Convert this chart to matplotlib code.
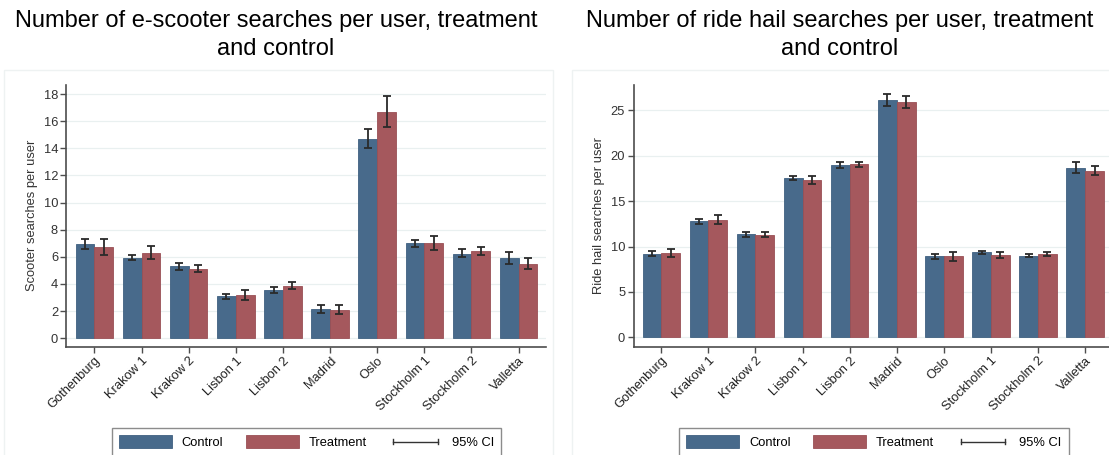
import numpy as np
import matplotlib
matplotlib.use("Agg")
import matplotlib.pyplot as plt
from matplotlib.patches import Patch, Rectangle
from matplotlib.lines import Line2D
from matplotlib.legend_handler import HandlerBase

plt.rcParams["font.family"] = ["Liberation Sans", "DejaVu Sans"]

cities = ["Gothenburg", "Krakow 1", "Krakow 2", "Lisbon 1", "Lisbon 2",
          "Madrid", "Oslo", "Stockholm 1", "Stockholm 2", "Valletta"]

# e-scooter searches per user
scooter_control = [6.95, 5.94, 5.30, 3.10, 3.57, 2.17, 14.70, 7.02, 6.23, 5.94]
scooter_control_lo = [6.55, 5.74, 5.05, 2.91, 3.30, 1.85, 14.04, 6.72, 5.99, 5.47]
scooter_control_hi = [7.34, 6.10, 5.57, 3.25, 3.77, 2.46, 15.42, 7.24, 6.55, 6.38]
scooter_treatment = [6.72, 6.30, 5.12, 3.18, 3.84, 2.07, 16.70, 7.04, 6.43, 5.49]
scooter_treatment_lo = [6.16, 5.81, 4.88, 2.78, 3.60, 1.75, 15.57, 6.48, 6.13, 5.07]
scooter_treatment_hi = [7.34, 6.77, 5.42, 3.52, 4.11, 2.44, 17.88, 7.54, 6.72, 5.94]

# ride hail searches per user
ride_control = [9.22, 12.77, 11.38, 17.53, 18.96, 26.10, 8.93, 9.37, 9.00, 18.67]
ride_control_lo = [8.93, 12.52, 11.05, 17.28, 18.63, 25.47, 8.64, 9.19, 8.86, 18.08]
ride_control_hi = [9.48, 13.03, 11.64, 17.75, 19.33, 26.79, 9.22, 9.52, 9.19, 19.33]
ride_treatment = [9.26, 12.88, 11.31, 17.31, 19.03, 25.88, 8.93, 9.08, 9.19, 18.33]
ride_treatment_lo = [8.86, 12.44, 11.02, 16.87, 18.74, 25.25, 8.46, 8.75, 8.93, 17.83]
ride_treatment_hi = [9.74, 13.47, 11.57, 17.79, 19.33, 26.57, 9.41, 9.41, 9.44, 18.89]

scooter_ticks = [0, 2, 4, 6, 8, 10, 12, 14, 16, 18]
ride_ticks = [0, 5, 10, 15, 20, 25]

C_CONTROL = "#486a8b"
C_TREAT = "#a5585d"
C_ERR = "#2a2a2a"
C_AXIS = "#4d4d4d"
C_GRID = "#e9f0f0"
FS = 9.3

W, H = 1109, 455
fig = plt.figure(figsize=(W / 100, H / 100), dpi=100)
fig.patch.set_facecolor("white")

# faint outlines of the two graph regions
for x0, x1 in [(4, 553), (572, 1115)]:
    fig.patches.append(Rectangle((x0 / W, -0.05), (x1 - x0) / W, 1.05 - 70 / H,
                                 transform=fig.transFigure, facecolor="none",
                                 edgecolor="#eef2f2", lw=1.0, zorder=-5))


class CIKey:
    pass


class HandlerCI(HandlerBase):
    def create_artists(self, legend, orig_handle, xdescent, ydescent,
                       width, height, fontsize, trans):
        y = height / 2 - ydescent
        x0 = -xdescent + width * 0.08
        x1 = -xdescent + width * 0.92
        cap = height * 0.22
        kw = dict(color="#333333", lw=1.0, transform=trans)
        return [Line2D([x0, x1], [y, y], **kw),
                Line2D([x0, x0], [y - cap, y + cap], **kw),
                Line2D([x1, x1], [y - cap, y + cap], **kw)]


def panel(rect, control, c_lo, c_hi, treat, t_lo, t_hi, ticks, ylim, xlim,
          ylabel, title, title_x, legend_x):
    ax = fig.add_axes(rect)
    x = np.arange(len(cities))
    w = 0.398
    ax.bar(x - w / 2, control, w, color=C_CONTROL, edgecolor="#3f6080",
           lw=0.6, zorder=2)
    ax.bar(x + w / 2, treat, w, color=C_TREAT, edgecolor="#9a4f55",
           lw=0.6, zorder=2)
    control = np.asarray(control)
    treat = np.asarray(treat)
    ax.errorbar(x - w / 2, control,
                yerr=[control - np.asarray(c_lo), np.asarray(c_hi) - control],
                fmt="none", ecolor=C_ERR, elinewidth=1.3, capsize=2.6,
                capthick=1.3, zorder=3)
    ax.errorbar(x + w / 2, treat,
                yerr=[treat - np.asarray(t_lo), np.asarray(t_hi) - treat],
                fmt="none", ecolor=C_ERR, elinewidth=1.3, capsize=2.6,
                capthick=1.3, zorder=3)
    ax.set_xlim(*xlim)
    ax.set_ylim(*ylim)
    ax.set_yticks(ticks)
    ax.set_yticklabels([str(t) for t in ticks], fontsize=FS, color="#333333")
    ax.set_xticks(x)
    ax.set_xticklabels(cities, rotation=45, ha="right", rotation_mode="anchor",
                       fontsize=FS, color="#222222")
    ax.yaxis.grid(True, color=C_GRID, lw=0.9, zorder=0)
    ax.set_axisbelow(True)
    for s in ["top", "right"]:
        ax.spines[s].set_visible(False)
    for s in ["left", "bottom"]:
        ax.spines[s].set_color(C_AXIS)
        ax.spines[s].set_linewidth(1.2)
    ax.tick_params(axis="both", direction="out", length=4, width=1.0,
                   color=C_AXIS, pad=2)
    ax.set_ylabel(ylabel, fontsize=FS, color="#333333", labelpad=4)

    fig.text(title_x / W, 1 - 35 / H, title, ha="center", va="center",
             fontsize=17, linespacing=1.32, color="black")

    handles = [Patch(facecolor=C_CONTROL, edgecolor="#3f6080", lw=0.6),
               Patch(facecolor=C_TREAT, edgecolor="#9a4f55", lw=0.6),
               CIKey()]
    leg = ax.legend(handles, ["Control", "Treatment", "95% CI"], ncol=3,
                    loc="upper center",
                    bbox_to_anchor=(legend_x / W, 1 - 428 / H),
                    bbox_transform=fig.transFigure,
                    handler_map={CIKey: HandlerCI()},
                    fontsize=FS, handlelength=4.1, handleheight=1.15,
                    handletextpad=0.75, columnspacing=1.75, borderpad=0.55,
                    borderaxespad=0, frameon=True, fancybox=False,
                    edgecolor="#8c8c8c", framealpha=1)
    leg.get_frame().set_linewidth(1.0)
    return ax


bottom = 1 - 346.5 / H
height = 261.5 / H

panel([66.4 / W, bottom, 480 / W, height],
      scooter_control, scooter_control_lo, scooter_control_hi,
      scooter_treatment, scooter_treatment_lo, scooter_treatment_hi,
      scooter_ticks, (-0.616, 18.665), (-0.595, 9.59),
      "Scooter searches per user",
      "Number of e-scooter searches per user, treatment\nand control",
      276, 306.5)

panel([633.5 / W, bottom, 479.5 / W, height],
      ride_control, ride_control_lo, ride_control_hi,
      ride_treatment, ride_treatment_lo, ride_treatment_hi,
      ride_ticks, (-0.99, 27.75), (-0.59, 9.59),
      "Ride hail searches per user",
      "Number of ride hail searches per user, treatment\nand control",
      840, 874)

fig.savefig("out.png", dpi=100)
